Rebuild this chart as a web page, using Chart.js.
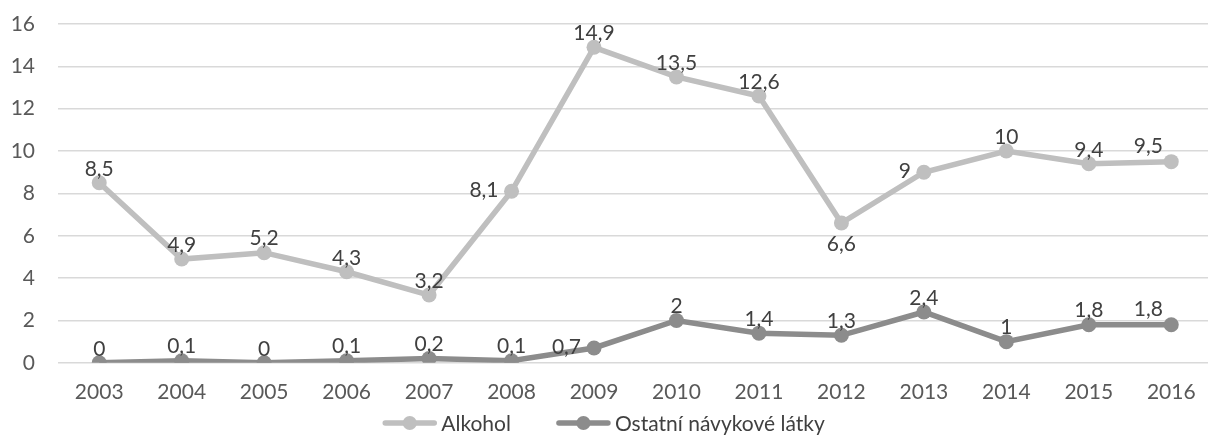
<!DOCTYPE html>
<html>
<head>
<meta charset="utf-8">
<script src="https://cdn.jsdelivr.net/npm/chart.js@4.4.1/dist/chart.umd.min.js"></script>
<style>
  html, body { margin: 0; padding: 0; background: #ffffff; overflow: hidden; }
  #wrap { width: 1220px; height: 435px; }
</style>
</head>
<body>
<div id="wrap"><canvas id="c" width="1220" height="435"></canvas></div>
<script>
// ---- data ----
const years = ['2003','2004','2005','2006','2007','2008','2009','2010','2011','2012','2013','2014','2015','2016'];
const alkohol = [8.5, 4.9, 5.2, 4.3, 3.2, 8.1, 14.9, 13.5, 12.6, 6.6, 9, 10, 9.4, 9.5];
const ostatni = [0, 0.1, 0, 0.1, 0.2, 0.1, 0.7, 2, 1.4, 1.3, 2.4, 1, 1.8, 1.8];
const seriesNames = ['Alkohol', 'Ostatní návykové látky'];
const yTicks = [0, 2, 4, 6, 8, 10, 12, 14, 16];

// label placement (style)
const alkoholLabelPos = ['above','above','above','above','above','left','above','above','above','below','left','above','above','aboveLeft'];
const ostatniLabelPos = ['above','above','above','above','above','above','left','above','above','above','above','above','above','aboveLeft'];

const colors = ['#bfbfbf', '#8c8c8c'];
const FONT = 'Lato, "Open Sans", sans-serif';

const fmt = v => String(v).replace('.', ',');

const dataLabelPlugin = {
  id: 'dataLabels',
  afterDatasetsDraw(chart) {
    const ctx = chart.ctx;
    const posSets = [alkoholLabelPos, ostatniLabelPos];
    ctx.save();
    ctx.font = '21px ' + FONT;
    ctx.fillStyle = '#404040';
    chart.data.datasets.forEach((ds, di) => {
      const meta = chart.getDatasetMeta(di);
      meta.data.forEach((pt, i) => {
        const pos = posSets[di][i];
        const txt = fmt(ds.data[i]);
        let x = pt.x, y = pt.y;
        ctx.textBaseline = 'middle';
        if (pos === 'above') { ctx.textAlign = 'center'; y -= 14; }
        else if (pos === 'aboveLeft') { ctx.textAlign = 'center'; y -= 15; x -= 23; }
        else if (pos === 'below') { ctx.textAlign = 'center'; y += 21; }
        else if (pos === 'left') { ctx.textAlign = 'right'; x -= 13; y -= 1; }
        ctx.fillText(txt, x, y);
      });
    });
    ctx.restore();
  }
};

const legendPlugin = {
  id: 'customLegend',
  afterDraw(chart) {
    const ctx = chart.ctx;
    ctx.save();
    ctx.font = '21px ' + FONT;
    const lineW = 53, gapText = 5, gapItem = 46;
    const widths = seriesNames.map(n => lineW + gapText + ctx.measureText(n).width);
    const total = widths.reduce((a, b) => a + b, 0) + gapItem * (seriesNames.length - 1);
    let x = (chart.width - 12) / 2 - total / 2;
    const y = 423;
    seriesNames.forEach((n, i) => {
      ctx.strokeStyle = colors[i];
      ctx.lineWidth = 5.5;
      ctx.lineCap = 'round';
      ctx.beginPath();
      ctx.moveTo(x + 2, y);
      ctx.lineTo(x + lineW - 2, y);
      ctx.stroke();
      ctx.fillStyle = colors[i];
      ctx.beginPath();
      ctx.arc(x + lineW / 2, y, 7, 0, Math.PI * 2);
      ctx.fill();
      ctx.fillStyle = '#404040';
      ctx.textAlign = 'left';
      ctx.textBaseline = 'middle';
      ctx.fillText(n, x + lineW + gapText, y + 1);
      x += widths[i] + gapItem;
    });
    ctx.restore();
  }
};

new Chart(document.getElementById('c'), {
  type: 'line',
  data: {
    labels: years,
    datasets: [
      { label: seriesNames[0], data: alkohol, borderColor: colors[0], backgroundColor: colors[0],
        borderWidth: 5.5, pointRadius: 7.5, pointHoverRadius: 7.5, pointBorderWidth: 0, tension: 0 },
      { label: seriesNames[1], data: ostatni, borderColor: colors[1], backgroundColor: colors[1],
        borderWidth: 5.5, pointRadius: 7.5, pointHoverRadius: 7.5, pointBorderWidth: 0, tension: 0 }
    ]
  },
  options: {
    responsive: false,
    animation: false,
    layout: { padding: { top: 24, right: 0, bottom: 13, left: 0 } },
    plugins: { legend: { display: false }, tooltip: { enabled: false } },
    scales: {
      x: {
        offset: true,
        grid: { display: false, drawTicks: false },
        border: { display: false },
        ticks: { color: '#595959', font: { family: FONT, size: 21 }, padding: 17, maxRotation: 0 }
      },
      y: {
        min: 0, max: 16,
        afterBuildTicks(scale) { scale.ticks = yTicks.map(v => ({ value: v })); },
        afterFit(scale) { scale.width = 58; scale.paddingTop = 0; scale.paddingBottom = 0; },
        grid: { color: '#d9d9d9', lineWidth: 1.5, drawTicks: false, tickLength: 0 },
        border: { display: false },
        ticks: { color: '#595959', font: { family: FONT, size: 21 }, padding: 23 }
      }
    }
  },
  plugins: [dataLabelPlugin, legendPlugin]
});
</script>
</body>
</html>
